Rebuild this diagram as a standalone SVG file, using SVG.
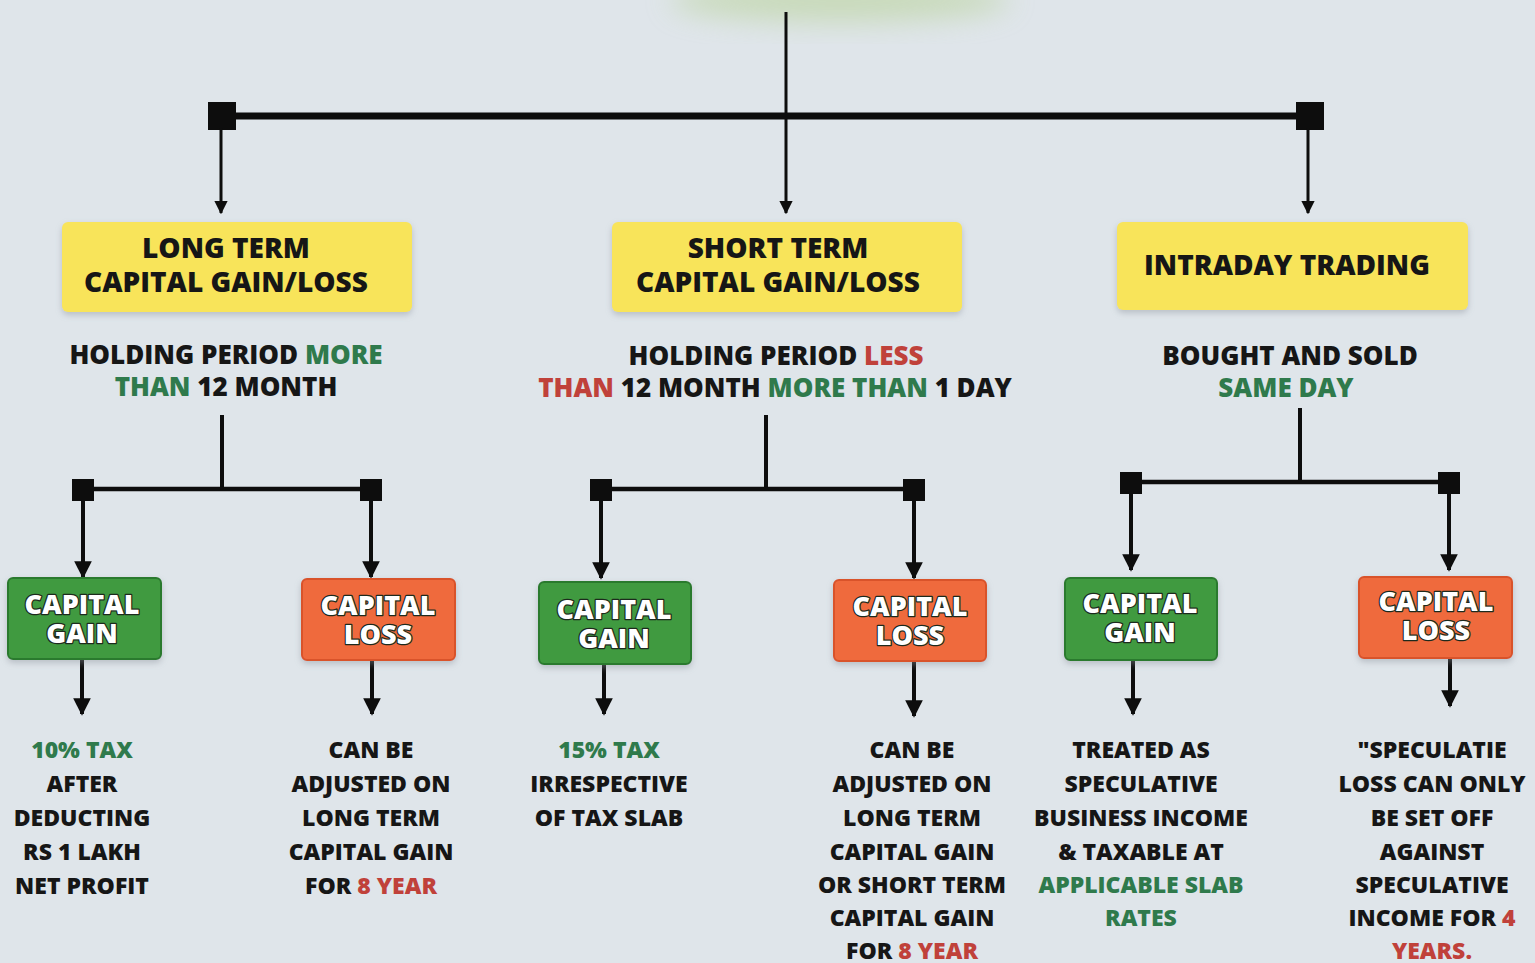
<svg xmlns="http://www.w3.org/2000/svg" width="1535" height="963" viewBox="0 0 1535 963">
<defs>
<style>
.bg{fill:#dfe5ea}
.t{font-family:"Open Sans","Noto Sans","Liberation Sans",sans-serif;font-weight:800;text-anchor:middle;fill:#161616}
.h{font-size:28px}
.s{font-size:26px}
.b{font-size:23px}
.w{font-size:27px;fill:#ffffff;stroke:#1d2a1d;stroke-width:2.5px;paint-order:stroke;stroke-linejoin:round}
.g{fill:#2f7a4c}
.r{fill:#c0413a}
.yel{fill:#f8e45a}
.grn{fill:#3f9a3f;stroke:#2c7a2e;stroke-width:2}
.red{fill:#ef6a3e;stroke:#d9532a;stroke-width:2}
.ln{stroke:#0d0d0d;fill:none}
.cap{fill:#0d0d0d}
</style>
<marker id="ah" viewBox="0 0 10 10" refX="9" refY="5" markerWidth="4.4" markerHeight="4.4" orient="auto" markerUnits="strokeWidth">
<path d="M0,0 L10,5 L0,10 z" fill="#0d0d0d"/>
</marker>
<filter id="sh" x="-10%" y="-20%" width="120%" height="150%">
<feDropShadow dx="0" dy="3" stdDeviation="3" flood-color="#8a9099" flood-opacity="0.45"/>
</filter>
<filter id="blur" x="-50%" y="-50%" width="200%" height="200%">
<feGaussianBlur stdDeviation="14"/>
</filter>
</defs>
<rect class="bg" x="0" y="0" width="1535" height="963"/>
<ellipse cx="840" cy="0" rx="170" ry="22" fill="#b9d39a" opacity="0.6" filter="url(#blur)"/>

<g id="connectors">
<line class="ln" x1="786" y1="12" x2="786" y2="213" stroke-width="3" marker-end="url(#ah)"/>
<line class="ln" x1="222" y1="116" x2="1310" y2="116" stroke-width="7"/>
<rect class="cap" x="208" y="102" width="28" height="28"/>
<rect class="cap" x="1296" y="102" width="28" height="28"/>
<line class="ln" x1="221" y1="128" x2="221" y2="213" stroke-width="3" marker-end="url(#ah)"/>
<line class="ln" x1="1308" y1="128" x2="1308" y2="213" stroke-width="3" marker-end="url(#ah)"/>

<line class="ln" x1="222" y1="415" x2="222" y2="489" stroke-width="4"/>
<line class="ln" x1="83" y1="489" x2="371" y2="489" stroke-width="4.5"/>
<rect class="cap" x="72" y="479" width="22" height="22"/>
<rect class="cap" x="360" y="479" width="22" height="22"/>
<line class="ln" x1="83" y1="498" x2="83" y2="577" stroke-width="4" marker-end="url(#ah)"/>
<line class="ln" x1="371" y1="498" x2="371" y2="577" stroke-width="4" marker-end="url(#ah)"/>

<line class="ln" x1="766" y1="415" x2="766" y2="489" stroke-width="4"/>
<line class="ln" x1="601" y1="489" x2="914" y2="489" stroke-width="4.5"/>
<rect class="cap" x="590" y="479" width="22" height="22"/>
<rect class="cap" x="903" y="479" width="22" height="22"/>
<line class="ln" x1="601" y1="498" x2="601" y2="578" stroke-width="4" marker-end="url(#ah)"/>
<line class="ln" x1="914" y1="498" x2="914" y2="578" stroke-width="4" marker-end="url(#ah)"/>

<line class="ln" x1="1300" y1="408" x2="1300" y2="482" stroke-width="4"/>
<line class="ln" x1="1131" y1="482" x2="1449" y2="482" stroke-width="4.5"/>
<rect class="cap" x="1120" y="472" width="22" height="22"/>
<rect class="cap" x="1438" y="472" width="22" height="22"/>
<line class="ln" x1="1131" y1="491" x2="1131" y2="570" stroke-width="4" marker-end="url(#ah)"/>
<line class="ln" x1="1449" y1="491" x2="1449" y2="570" stroke-width="4" marker-end="url(#ah)"/>

<line class="ln" x1="82" y1="660" x2="82" y2="714" stroke-width="4" marker-end="url(#ah)"/>
<line class="ln" x1="372" y1="661" x2="372" y2="714" stroke-width="4" marker-end="url(#ah)"/>
<line class="ln" x1="604" y1="665" x2="604" y2="714" stroke-width="4" marker-end="url(#ah)"/>
<line class="ln" x1="914" y1="662" x2="914" y2="716" stroke-width="4" marker-end="url(#ah)"/>
<line class="ln" x1="1133" y1="661" x2="1133" y2="714" stroke-width="4" marker-end="url(#ah)"/>
<line class="ln" x1="1450" y1="659" x2="1450" y2="706" stroke-width="4" marker-end="url(#ah)"/>
</g>

<g id="ltcg">
<rect class="yel" x="62" y="222" width="350" height="90" rx="6" filter="url(#sh)"/>
<text class="t h" x="226" y="258">LONG TERM</text>
<text class="t h" x="226" y="292">CAPITAL GAIN/LOSS</text>
<text class="t s" x="226" y="364">HOLDING PERIOD <tspan class="g">MORE</tspan></text>
<text class="t s" x="226" y="396"><tspan class="g">THAN</tspan> 12 MONTH</text>
</g>

<g id="stcg">
<rect class="yel" x="612" y="222" width="350" height="90" rx="6" filter="url(#sh)"/>
<text class="t h" x="778" y="258">SHORT TERM</text>
<text class="t h" x="778" y="292">CAPITAL GAIN/LOSS</text>
<text class="t s" x="776" y="365">HOLDING PERIOD <tspan class="r">LESS</tspan></text>
<text class="t s" x="775" y="397"><tspan class="r">THAN</tspan> 12 MONTH <tspan class="g">MORE THAN</tspan> 1 DAY</text>
</g>

<g id="intraday">
<rect class="yel" x="1117" y="222" width="351" height="88" rx="6" filter="url(#sh)"/>
<text class="t h" x="1287" y="275">INTRADAY TRADING</text>
<text class="t s" x="1290" y="365">BOUGHT AND SOLD</text>
<text class="t s g" x="1286" y="397">SAME DAY</text>
</g>

<g id="lt-gain">
<rect class="grn" x="8" y="578" width="153" height="81" rx="5" filter="url(#sh)"/>
<text class="t w" x="82" y="614">CAPITAL<tspan x="82" dy="29">GAIN</tspan></text>
<text class="t b g" x="82" y="758">10% TAX</text>
<text class="t b" x="82" y="792">AFTER</text>
<text class="t b" x="82" y="826">DEDUCTING</text>
<text class="t b" x="82" y="860">RS 1 LAKH</text>
<text class="t b" x="82" y="894">NET PROFIT</text>
</g>

<g id="lt-loss">
<rect class="red" x="302" y="579" width="153" height="81" rx="5" filter="url(#sh)"/>
<text class="t w" x="378" y="615">CAPITAL<tspan x="378" dy="29">LOSS</tspan></text>
<text class="t b" x="371" y="758">CAN BE</text>
<text class="t b" x="371" y="792">ADJUSTED ON</text>
<text class="t b" x="371" y="826">LONG TERM</text>
<text class="t b" x="371" y="860">CAPITAL GAIN</text>
<text class="t b" x="371" y="894">FOR <tspan class="r">8 YEAR</tspan></text>
</g>

<g id="st-gain">
<rect class="grn" x="539" y="582" width="152" height="82" rx="5" filter="url(#sh)"/>
<text class="t w" x="614" y="619">CAPITAL<tspan x="614" dy="29">GAIN</tspan></text>
<text class="t b g" x="609" y="758">15% TAX</text>
<text class="t b" x="609" y="792">IRRESPECTIVE</text>
<text class="t b" x="609" y="826">OF TAX SLAB</text>
</g>

<g id="st-loss">
<rect class="red" x="834" y="580" width="152" height="81" rx="5" filter="url(#sh)"/>
<text class="t w" x="910" y="616">CAPITAL<tspan x="910" dy="29">LOSS</tspan></text>
<text class="t b" x="912" y="758">CAN BE</text>
<text class="t b" x="912" y="792">ADJUSTED ON</text>
<text class="t b" x="912" y="826">LONG TERM</text>
<text class="t b" x="912" y="860">CAPITAL GAIN</text>
<text class="t b" x="912" y="893">OR SHORT TERM</text>
<text class="t b" x="912" y="926">CAPITAL GAIN</text>
<text class="t b" x="912" y="959">FOR <tspan class="r">8 YEAR</tspan></text>
</g>

<g id="id-gain">
<rect class="grn" x="1065" y="578" width="152" height="82" rx="5" filter="url(#sh)"/>
<text class="t w" x="1140" y="613">CAPITAL<tspan x="1140" dy="29">GAIN</tspan></text>
<text class="t b" x="1141" y="758">TREATED AS</text>
<text class="t b" x="1141" y="792">SPECULATIVE</text>
<text class="t b" x="1141" y="826">BUSINESS INCOME</text>
<text class="t b" x="1141" y="860">&amp; TAXABLE AT</text>
<text class="t b g" x="1141" y="893">APPLICABLE SLAB</text>
<text class="t b g" x="1141" y="926">RATES</text>
</g>

<g id="id-loss">
<rect class="red" x="1359" y="577" width="153" height="81" rx="5" filter="url(#sh)"/>
<text class="t w" x="1436" y="611">CAPITAL<tspan x="1436" dy="29">LOSS</tspan></text>
<text class="t b" x="1432" y="758">"SPECULATIE</text>
<text class="t b" x="1432" y="792">LOSS CAN ONLY</text>
<text class="t b" x="1432" y="826">BE SET OFF</text>
<text class="t b" x="1432" y="860">AGAINST</text>
<text class="t b" x="1432" y="893">SPECULATIVE</text>
<text class="t b" x="1432" y="926">INCOME FOR <tspan class="r">4</tspan></text>
<text class="t b" x="1432" y="959"><tspan class="r">YEARS.</tspan></text>
</g>
</svg>
